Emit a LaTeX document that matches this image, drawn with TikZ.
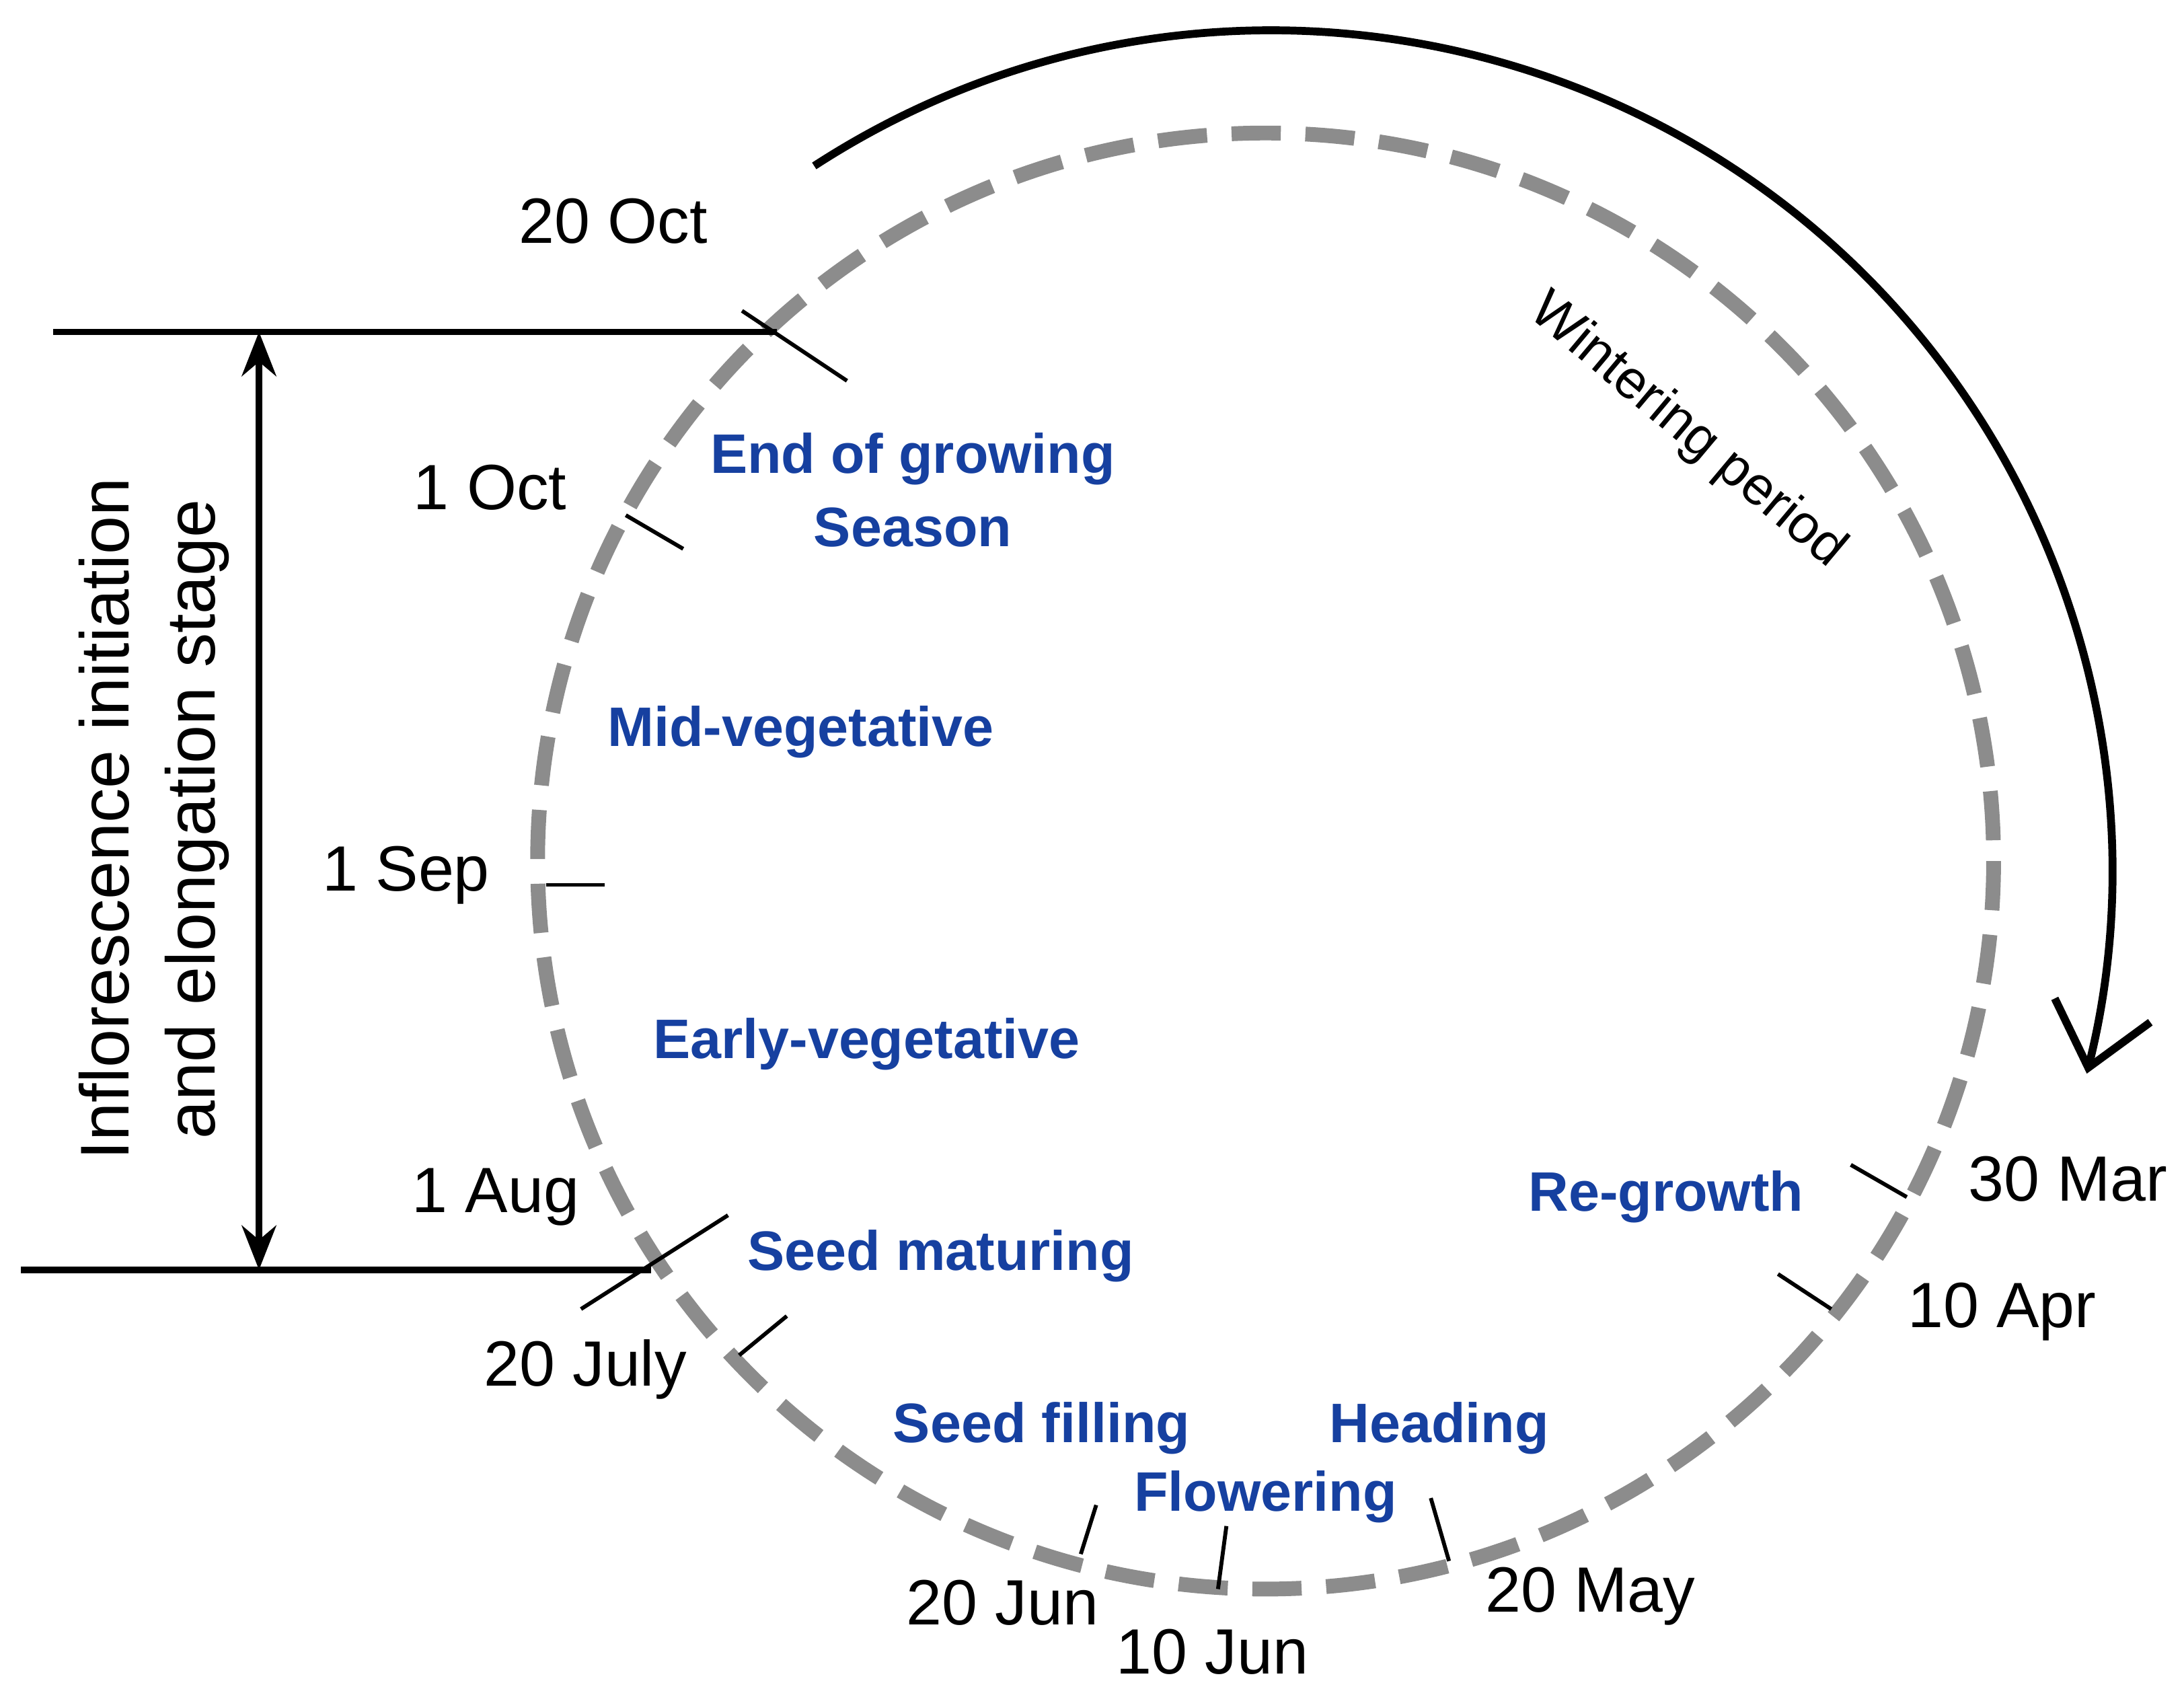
\documentclass[tikz,border=0pt]{standalone}
\usepackage{fontspec}
\setmainfont{Liberation Sans}
\usetikzlibrary{arrows.meta}
\definecolor{stageblue}{RGB}{22,64,160}
\definecolor{circgray}{RGB}{140,140,140}
\begin{document}
\begin{tikzpicture}[x=0.01cm,y=-0.01cm,
  date/.style={font=\fontsize{13}{15}\selectfont,inner sep=0pt},
  stage/.style={font=\bfseries\fontsize{11.3}{15}\selectfont,text=stageblue,align=center,inner sep=0pt},
  tick/.style={line width=0.8pt}]
\useasboundingbox (0,0) rectangle (1560,1206);
\coordinate (c) at (904,615);
\draw[circgray,line width=3pt,dash pattern=on 10pt off 5pt] (c) circle[radius=520];
% ticks
\draw[tick] (530,222) -- (605,272);
\draw[tick] (447,368) -- (488,392);
\draw[tick] (390,632) -- (432,632);
\draw[tick] (415,935) -- (520,868);
\draw[tick] (528,968) -- (562,940);
\draw[tick] (772,1110) -- (783,1075);
\draw[tick] (870,1135) -- (876,1090);
\draw[tick] (1035,1115) -- (1022,1070);
\draw[tick] (1270,910) -- (1308,935);
\draw[tick] (1322,832) -- (1362,855);
% horizontal lines and double arrow
\coordinate (t1) at (38,237); \coordinate (t2) at (555,237);
\coordinate (b1) at (15,907); \coordinate (b2) at (465,907);
\draw[line width=1.3pt] (t1) -- (t2);
\draw[line width=1.3pt] (b1) -- (b2);
\coordinate (at) at (185,237); \coordinate (ab) at (185,907);
\draw[line width=1.3pt,{Stealth[length=9pt,width=7pt]}-{Stealth[length=9pt,width=7pt]}] (at) -- (ab);
\node[rotate=90,align=center,font=\fontsize{14}{17.5}\selectfont] (lab) at (110,585) {Inflorescence initiation\\and elongation stage};
% big arc arrow
\draw[line width=1.6pt,-{Straight Barb[length=12pt,width=20pt]}] (c) ++(-123:592) arc[start angle=-123,end angle=14,radius=600];
\node[rotate=-40,font=\fontsize{11}{13}\selectfont] (wint) at (1205,308) {Wintering period};
% dates
\node[date] (d1) at (438,158) {20 Oct};
\node[date] (d2) at (350,348) {1 Oct};
\node[date] (d3) at (290,625) {1 Sep};
\node[date] (d4) at (354,855) {1 Aug};
\node[date] (d5) at (418,978) {20 July};
\node[date] (d6) at (716,1145) {20 Jun};
\node[date] (d7) at (866,1180) {10 Jun};
\node[date] (d8) at (1136,1140) {20 May};
\node[date] (d9) at (1430,937) {10 Apr};
\node[date] (d10) at (1477,842) {30 Mar};
% stages
\node[stage] (s1) at (652,350) {End of growing\\Season};
\node[stage] (s2) at (572,523) {Mid-vegetative};
\node[stage] (s3) at (619,746) {Early-vegetative};
\node[stage] (s4) at (672,897) {Seed maturing};
\node[stage] (s5) at (744,1020) {Seed filling};
\node[stage] (s6) at (1028,1020) {Heading};
\node[stage] (s7) at (904,1069) {Flowering};
\node[stage] (s8) at (1190,855) {Re-growth};
\end{tikzpicture}
\end{document}
